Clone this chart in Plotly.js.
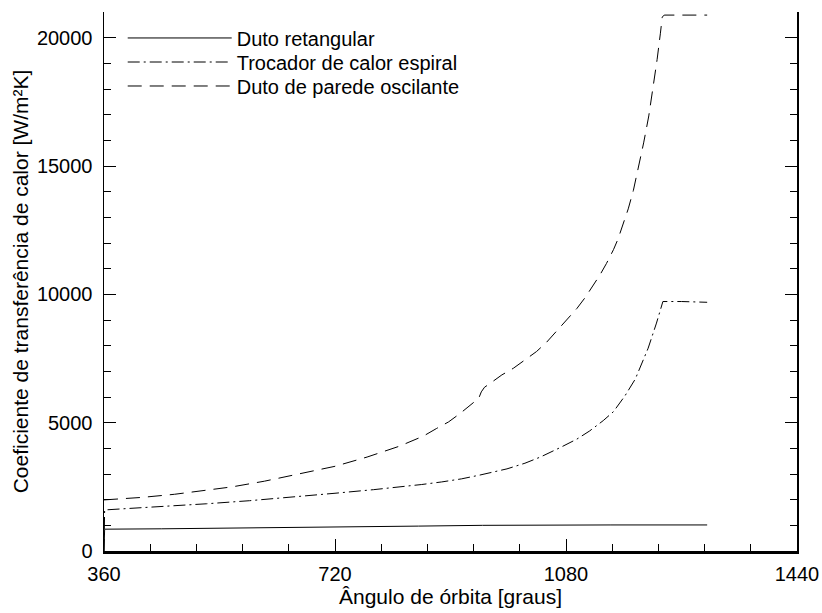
<!DOCTYPE html>
<html>
<head>
<meta charset="utf-8">
<script src="https://cdn.plot.ly/plotly-3.0.1.min.js"></script>
<style>html,body{margin:0;padding:0;background:#fff;}#chart{width:822px;height:613px;}</style>
</head>
<body>
<div id="chart"></div>
<script>
// Duto retangular (solid)
const xRet = [360, 361, 450, 550, 650, 750, 850, 950, 1000, 1050, 1150, 1300];
const yRet = [0, 850, 865, 885, 905, 930, 970, 1000, 1010, 1015, 1015, 1015];

// Trocador de calor espiral (dash-dot)
const xEsp = [360, 361, 420, 470, 520, 587, 665, 720, 780, 821, 855, 886, 917, 946, 988, 1016, 1040, 1071, 1097, 1117, 1138, 1154, 1164, 1172, 1188, 1208, 1221, 1227, 1231, 1260, 1300];
const yEsp = [0, 1600, 1690, 1760, 1840, 1960, 2120, 2250, 2390, 2490, 2590, 2690, 2810, 2960, 3200, 3420, 3660, 4030, 4360, 4680, 5080, 5430, 5750, 6050, 6700, 7900, 8880, 9400, 9720, 9720, 9690];

// Duto de parede oscilante (dashed)
const xOsc = [360, 420, 470, 510, 560, 610, 665, 720, 770, 820, 840, 858, 878, 897, 915, 931, 944, 948, 953, 960, 980, 998, 1016, 1034, 1050, 1065, 1081, 1097, 1110, 1122, 1133, 1143, 1154, 1161, 1169, 1177, 1185, 1193, 1201, 1209, 1216, 1222, 1227, 1230, 1233, 1300];
const yOsc = [1990, 2090, 2210, 2330, 2500, 2720, 3000, 3300, 3660, 4080, 4290, 4480, 4770, 5030, 5360, 5700, 5950, 6200, 6380, 6500, 6860, 7120, 7450, 7770, 8140, 8550, 9000, 9450, 9880, 10320, 10760, 11200, 11740, 12150, 12700, 13330, 14050, 14950, 15900, 16950, 18050, 19150, 20150, 20800, 20880, 20880];

const seriesNames = ['Duto retangular', 'Trocador de calor espiral', 'Duto de parede oscilante'];
const xTickVals = [360, 720, 1080, 1440];
const yTickVals = [0, 5000, 10000, 15000, 20000];

const FONT = 'Liberation Sans, Arial, Helvetica, sans-serif';

const traces = [
  {x: xRet, y: yRet, name: seriesNames[0], mode: 'lines', legend: 'legend', line: {color: '#000', width: 1}},
  {x: xEsp, y: yEsp, name: seriesNames[1], mode: 'lines', legend: 'legend2', line: {color: '#000', width: 1, dash: '12px,4px,2px,4px'}},
  {x: xOsc, y: yOsc, name: seriesNames[2], mode: 'lines', legend: 'legend3', line: {color: '#000', width: 1, dash: '14px,8px'}}
];

function legendAt(yPaper) {
  return {x: 0.027, y: yPaper, xanchor: 'left', yanchor: 'top', bgcolor: 'rgba(0,0,0,0)',
          font: {family: FONT, size: 20, color: '#000'}, itemwidth: 104};
}

const layout = {
  width: 822, height: 613,
  margin: {l: 104, r: 25, t: 12, b: 62},
  paper_bgcolor: '#fff', plot_bgcolor: '#fff',
  font: {family: FONT, size: 20, color: '#000'},
  showlegend: true,
  legend: legendAt(0.988),
  legend2: legendAt(0.9434),
  legend3: legendAt(0.8989),
  xaxis: {
    range: [360, 1440], tickvals: xTickVals, ticktext: xTickVals.map(String),
    ticks: 'inside', ticklen: 12, tickwidth: 1, tickcolor: '#000',
    minor: {dtick: 72, tick0: 360, ticks: 'inside', ticklen: 7, tickwidth: 1, tickcolor: '#000', showgrid: false},
    showline: true, linewidth: 3, linecolor: '#000', mirror: false,
    showgrid: false, zeroline: false, ticklabelstandoff: 3,
    tickfont: {family: FONT, size: 20},
    title: {text: 'Ângulo de órbita [graus]', font: {family: FONT, size: 21}, standoff: 2}
  },
  xaxis2: {
    overlaying: 'x', matches: 'x', side: 'top', anchor: 'y',
    range: [360, 1440], tickvals: xTickVals,
    ticks: 'inside', ticklen: 12, tickwidth: 1, tickcolor: '#000',
    minor: {dtick: 72, tick0: 360, ticks: 'inside', ticklen: 7, tickwidth: 1, tickcolor: '#000', showgrid: false},
    showline: true, linewidth: 1.2, linecolor: '#000', showticklabels: false,
    showgrid: false, zeroline: false
  },
  yaxis: {
    range: [0, 21000], tickvals: yTickVals, ticktext: yTickVals.map(String),
    ticks: 'inside', ticklen: 12, tickwidth: 1, tickcolor: '#000',
    minor: {dtick: 1000, tick0: 0, ticks: 'inside', ticklen: 7, tickwidth: 1, tickcolor: '#000', showgrid: false},
    showline: true, linewidth: 1.5, linecolor: '#000', mirror: 'ticks',
    showgrid: false, zeroline: false, ticklabelstandoff: 6,
    tickfont: {family: FONT, size: 20},
    title: {text: 'Coeficiente de transferência de calor [W/m²K]', font: {family: FONT, size: 21}, standoff: 2}
  }
};

Plotly.newPlot('chart', traces, layout, {staticPlot: true, displayModeBar: false});
</script>
</body>
</html>
